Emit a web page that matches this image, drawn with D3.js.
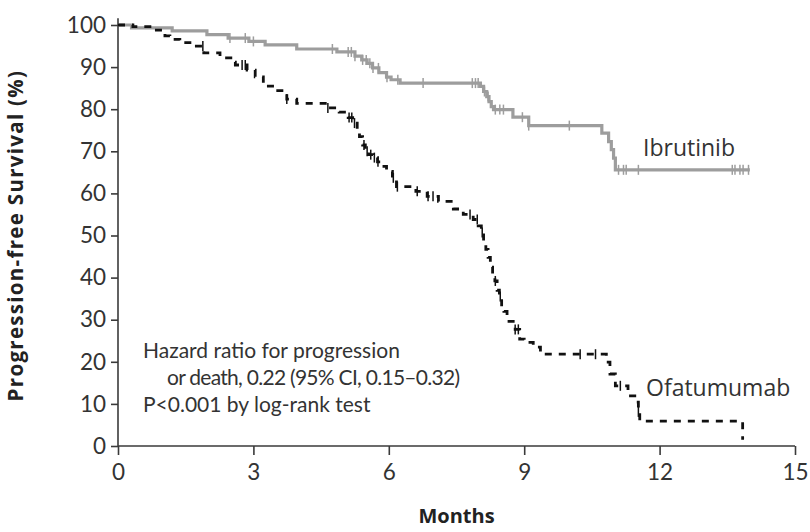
<!DOCTYPE html>
<html><head><meta charset="utf-8">
<script src="https://cdn.jsdelivr.net/npm/d3@7"></script>
<style>body{margin:0;background:#fff}svg{display:block}</style>
</head><body><svg id="c" width="810" height="532"></svg>
<script>
// ---- data ----
const xTicks = [0, 3, 6, 9, 12, 15];
const yTicks = [0, 10, 20, 30, 40, 50, 60, 70, 80, 90, 100];

const ibrTimes = [0, 0.3, 1.2, 1.97, 2.44, 2.9, 3.26, 3.96, 4.85, 5.25, 5.4, 5.52, 5.64, 5.78, 5.95, 6.05, 6.25, 8.03, 8.1, 8.17, 8.22, 8.27, 8.32, 8.75, 9.1, 10.72, 10.87, 10.93, 10.98, 11.02, 14.0];
const ibrSurv  = [100, 99.3, 98.6, 97.7, 96.9, 96.1, 95.3, 94.3, 93.6, 92.6, 91.7, 90.9, 89.8, 88.7, 87.6, 87.0, 86.2, 85.4, 84.2, 83.0, 81.8, 80.6, 79.9, 78.1, 76.1, 74.3, 72.3, 70.4, 68.4, 65.6, 65.6];
const ibrCensor = [2.48, 2.82, 3.0, 4.75, 5.1, 5.17, 5.25, 5.42, 5.5, 5.58, 5.65, 5.77, 5.96, 6.2, 6.76, 7.85, 7.92, 7.98, 8.12, 8.2, 8.36, 8.46, 8.54, 8.96, 9.1, 10.0, 11.09, 11.2, 11.26, 11.53, 13.61, 13.67, 13.78, 13.85, 13.97];

const ofaTimes = [0, 0.33, 0.78, 1.04, 1.15, 1.37, 1.7, 1.9, 2.26, 2.5, 2.6, 2.86, 3.04, 3.22, 3.5, 3.74, 3.96, 4.65, 4.9, 5.1, 5.2, 5.3, 5.35, 5.42, 5.48, 5.55, 5.65, 5.75, 5.85, 5.95, 6.08, 6.17, 6.6, 6.85, 7.1, 7.43, 7.65, 7.87, 7.98, 8.05, 8.1, 8.15, 8.2, 8.25, 8.3, 8.35, 8.4, 8.45, 8.5, 8.55, 8.62, 8.8, 8.9, 9.0, 9.2, 9.36, 10.82, 10.9, 11.02, 11.3, 11.45, 11.53, 11.56, 13.84, 13.84];
const ofaSurv  = [100, 99.6, 98.8, 97.4, 96.6, 95.8, 95.0, 93.4, 92.2, 91.2, 90.5, 89.3, 87.7, 85.5, 84.4, 82.4, 81.4, 80.3, 79.3, 78.0, 76.7, 75.0, 73.5, 71.5, 70.0, 69.2, 68.5, 67.5, 66.4, 65.2, 63.7, 61.6, 60.5, 59.3, 58.1, 56.3, 55.0, 53.8, 52.3, 50.7, 48.5, 46.7, 44.8, 42.5, 40.5, 39.2, 37.0, 35.5, 33.5, 32.0, 29.6, 27.7, 25.4, 24.6, 23.5, 21.8, 19.9, 17.1, 14.3, 11.9, 10.4, 8.1, 5.9, 5.9, 1.5];
const ofaCensor = [1.88, 2.75, 2.82, 3.74, 4.65, 5.12, 5.18, 5.24, 5.45, 5.52, 5.6, 5.68, 5.76, 6.1, 6.19, 6.63, 6.87, 6.98, 7.8, 7.96, 8.07, 8.36, 8.47, 8.8, 8.87, 10.24, 10.58, 11.13, 11.53];

const labels = {ibr: "Ibrutinib", ofa: "Ofatumumab"};
const annot = ["Hazard ratio for progression", "or death, 0.22 (95% CI, 0.15\u20130.32)", "P<0.001 by log-rank test"];

// ---- chart ----
const svg = d3.select("#c");
const font = "'Open Sans', sans-serif";
const x = d3.scaleLinear().domain([0, 15]).range([118, 795]);
const y = d3.scaleLinear().domain([0, 100]).range([446, 25]);
const axisCol = "#3a3a3a", textCol = "#333";

// axes
const gx = svg.append("g").attr("transform", `translate(0,${y(0)})`)
  .call(d3.axisBottom(x).tickValues(xTicks).tickSize(9).tickPadding(5).tickFormat(d3.format("d")));
const gy = svg.append("g").attr("transform", `translate(${x(0)},0)`)
  .call(d3.axisLeft(y).tickValues(yTicks).tickSize(7).tickPadding(5).tickFormat(d3.format("d")));
[gx, gy].forEach(g => {
  g.select(".domain").remove();
  g.selectAll(".tick line").attr("stroke", axisCol).attr("stroke-width", 1.6);
  g.selectAll(".tick text").attr("fill", textCol).style("font-family", "Lato, sans-serif").style("font-size", "22.5px");
});
gx.selectAll(".tick text").attr("dy", "0.9em");
svg.append("line").attr("x1", x(0)).attr("x2", x(15)).attr("y1", y(0)).attr("y2", y(0))
  .attr("stroke", axisCol).attr("stroke-width", 1.6);
svg.append("line").attr("x1", x(0)).attr("x2", x(0)).attr("y1", y(0)).attr("y2", y(101.6))
  .attr("stroke", axisCol).attr("stroke-width", 1.6);

// axis titles
svg.append("text").attr("x", (x(0) + x(15)) / 2).attr("y", 523).attr("text-anchor", "middle")
  .attr("fill", "#222").style("font-family", font).style("font-weight", "bold").style("font-size", "20px").text("Months");
svg.append("text").attr("transform", `translate(23,${(66 + 405) / 2}) rotate(-90)`).attr("text-anchor", "middle")
  .attr("fill", "#222").style("font-family", font).style("font-weight", "bold").style("font-size", "20.5px")
  .style("letter-spacing", "1.3px").text("Progression-free Survival (%)");

// curves
const line = d3.line().x(d => x(d[0])).y(d => y(d[1])).curve(d3.curveStepAfter);
function stepVal(times, surv, t) {
  let v = surv[0];
  for (let i = 0; i < times.length; i++) { if (times[i] <= t) v = surv[i]; }
  return v;
}
function drawCurve(times, surv, censor, color, dash, w) {
  const pts = times.map((t, i) => [t, surv[i]]);
  svg.append("path").datum(pts).attr("d", line).attr("fill", "none")
    .attr("stroke", color).attr("stroke-width", w).attr("stroke-dasharray", dash);
  svg.append("g").selectAll("line").data(censor).join("line")
    .attr("x1", d => x(d)).attr("x2", d => x(d))
    .attr("y1", d => y(stepVal(times, surv, d)) - 5).attr("y2", d => y(stepVal(times, surv, d)) + 5)
    .attr("stroke", color).attr("stroke-width", 1.5);
}
drawCurve(ibrTimes, ibrSurv, ibrCensor, "#9d9d9d", null, 3.2);
drawCurve(ofaTimes, ofaSurv, ofaCensor, "#111", "7,7", 2.8);

// labels
const lab = svg.append("g").style("font-family", font).attr("fill", textCol);
lab.append("text").attr("x", 643).attr("y", 156).style("font-size", "23px").text(labels.ibr);
lab.append("text").attr("x", 646).attr("y", 396).style("font-size", "23px").text(labels.ofa);
lab.selectAll("text.a").data(annot).join("text").attr("class", "a")
  .style("font-family", "Lato, sans-serif").style("font-size", "21px")
  .attr("x", (d, i) => i === 1 ? 167 : 143).attr("y", (d, i) => 358 + i * 27)
  .attr("textLength", (d, i) => i === 1 ? 293 : null).attr("lengthAdjust", "spacing")
  .text(d => d);
</script></body></html>
